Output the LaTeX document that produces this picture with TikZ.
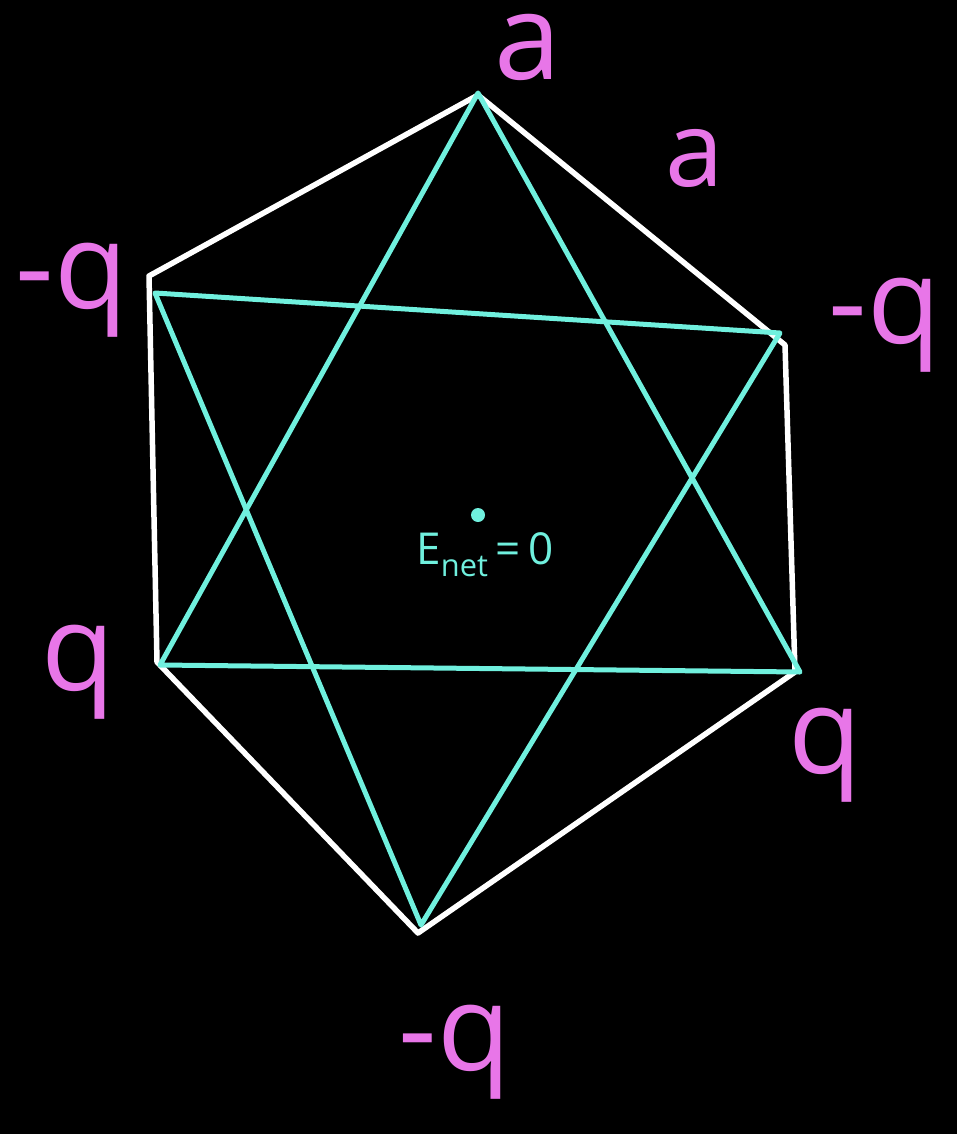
\documentclass[tikz,border=0pt]{standalone}
\usepackage{fontspec}
\setmainfont{Open Sans}
\definecolor{pinkq}{RGB}{232,118,232}
\definecolor{cyanl}{RGB}{112,240,222}
\begin{document}
\begin{tikzpicture}[x=1pt,y=-1pt,
  hexedge/.style={draw=white,line width=5.5pt,line cap=round,line join=round},
  triedge/.style={draw=cyanl,line width=5pt,line cap=round,line join=round},
  charge/.style={text=pinkq,font=\fontsize{120}{120}\selectfont,inner sep=0pt},
  side/.style={text=pinkq,font=\fontsize{105}{105}\selectfont,inner sep=0pt}]
\fill[black] (0,0) rectangle (957,1134);
\useasboundingbox (0,0) rectangle (957,1134);
% hexagon vertices
\coordinate (T) at (478,95);
\coordinate (UR) at (785,345);
\coordinate (LR) at (795,672);
\coordinate (B) at (418,933);
\coordinate (LL) at (157,662);
\coordinate (UL) at (149,276);
\draw[hexedge] (UL) -- (T) -- (UR) -- (LR) -- (B) -- (LL) -- (UL);
% triangles
\coordinate (cT) at (478,93);
\coordinate (cLL) at (160,665);
\coordinate (cLR) at (800,672);
\coordinate (cUL) at (155,293);
\coordinate (cUR) at (780,333);
\coordinate (cB) at (421,925);
\draw[triedge] (cT) -- (cLL) -- (cLR) -- cycle;
\draw[triedge] (cUL) -- (cUR) -- (cB) -- cycle;
% labels
\node[charge,anchor=base,text height=1ex,text depth=0pt] (lT) at (528,80) {a};
\node[side] (lS) at (695,158) {a};
\node[charge] (lUL) at (72,290) {-q};
\node[charge] (lUR) at (885,325) {-q};
\node[charge] (lL) at (78,672) {q};
\node[charge] (lLR) at (825,755) {q};
\node[charge] (lB) at (455,1052) {-q};
% center
\fill[cyanl] (478,515) circle (7pt) coordinate (C);
\node[text=cyanl,font=\fontsize{44}{44}\selectfont,inner sep=0pt] (E) at (485,555) {E\textsubscript{net}\,=\,0};
\end{tikzpicture}
\end{document}
